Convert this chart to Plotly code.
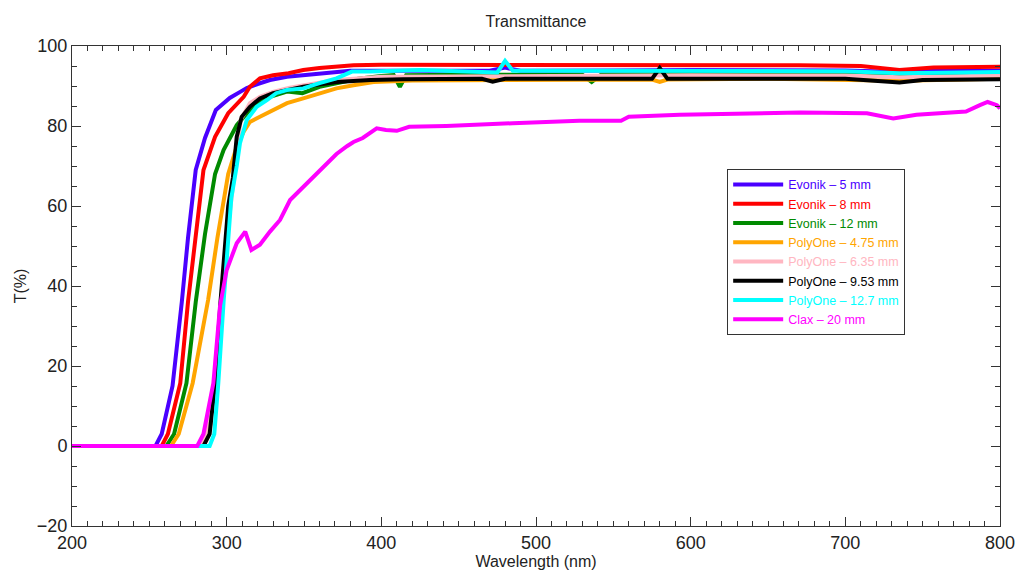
import plotly.graph_objects as go

# ---- data ----
names = ["Evonik – 5 mm", "Evonik – 8 mm", "Evonik – 12 mm", "PolyOne – 4.75 mm",
         "PolyOne – 6.35 mm", "PolyOne – 9.53 mm", "PolyOne – 12.7 mm", "Clax – 20 mm"]
colors = ["#4a00ff", "#ff0000", "#008a00", "#ffa500", "#ffb6c1", "#000000", "#00ffff", "#ff00ff"]

evonik5_wl = [200, 254, 258, 265, 271, 275, 280, 286, 293, 302, 309, 313, 320, 328, 339, 349, 360, 371, 380,
              400, 450, 470, 480, 490, 550, 600, 700, 735, 760, 800]
evonik5_T = [0, 0, 3, 15, 36, 52, 69, 77, 84, 87, 88.6, 89.5, 90.5, 91.5, 92.3, 92.7, 93.2, 93.6, 93.8,
             93.8, 93.8, 93.8, 94.6, 93.8, 93.9, 94, 93.9, 93.5, 93.8, 93.8]

evonik8_wl = [200, 258, 262, 270, 275, 280, 285, 292.5, 301, 311, 315, 321.5, 330, 340, 349.5, 360, 382,
              400, 450, 500, 541, 600, 670, 710, 725, 735, 757, 800]
evonik8_T = [0, 0, 3, 15.7, 36, 53, 69, 77.3, 83.2, 87.3, 89.8, 91.9, 92.7, 93.2, 94, 94.5, 95.2,
             95.3, 95.3, 95.4, 95.4, 95.3, 95.2, 95, 94.4, 94, 94.6, 94.8]

evonik12_wl = [200, 261, 266, 274, 280, 286, 292.5, 298, 306.5, 315, 321, 328, 339, 349, 360, 371, 385,
               400, 408, 412, 416, 450, 530, 536, 542, 600, 700, 735, 800]
evonik12_T = [0, 0, 3, 15.7, 36, 53, 68, 74, 80.2, 84, 86, 87.3, 88.6, 88.2, 89.8, 90.7, 91.8,
              92.5, 92.7, 89.8, 92.7, 92.8, 92.8, 91, 92.8, 93, 92.9, 92.5, 92.8]

polyone475_wl = [200, 264, 269, 278, 288, 294, 301, 306.5, 311, 315, 321.5, 330, 339, 349.5, 360, 371,
                 382, 395, 420, 500, 575, 580, 585, 650, 735, 800]
polyone475_T = [0, 0, 3, 15.7, 36.5, 52, 68, 74.8, 78.6, 81, 82.3, 84, 85.7, 86.9, 88.2, 89.4,
                90.2, 91, 91.4, 91.6, 91.6, 91.0, 91.6, 91.8, 91.3, 91.8]

polyone635_wl = [200, 283, 287, 293, 297, 301, 305, 307.5, 309, 315, 321.5, 330, 340, 350, 371, 400,
                 500, 600, 700, 735, 800]
polyone635_T = [0, 0, 3, 17, 38, 55, 68, 77.3, 81.5, 85.7, 87.3, 88.5, 89.5, 90.2, 91.5, 92.3,
                92.6, 92.7, 92.6, 92.2, 92.6]

polyone953_wl = [200, 285, 289, 292.5, 296, 301, 304, 306.5, 309.7, 315, 321.5, 330, 349.5, 371, 393,
                 414, 465, 472, 480, 575, 580, 585, 700, 725, 735, 750, 800]
polyone953_T = [0, 0, 3, 15.7, 36, 60, 67, 77.3, 82.3, 84.8, 86.9, 88.2, 89.8, 91, 91.5,
                91.7, 91.8, 91.1, 91.8, 91.8, 94.5, 91.8, 91.8, 91.2, 90.9, 91.5, 91.7]

polyone127_wl = [200, 289, 292, 294.6, 298, 303, 306.5, 308.6, 313, 319.4, 326, 332, 339, 349.5, 360,
                 371, 381, 393, 425, 470, 475, 480, 485, 550, 650, 700, 735, 800]
polyone127_T = [0, 0, 3, 15.7, 36, 62, 70, 75.7, 81.5, 84.8, 86.5, 88.2, 89, 89.4, 90.7,
                91.9, 93.6, 93.6, 94, 93.6, 93.4, 96.3, 93.8, 93.8, 93.8, 93.7, 93.2, 93.5]

clax20_wl = [200, 281, 285, 291.4, 295.7, 300, 306.5, 312, 316, 321.5, 328, 334.5, 341, 354, 360, 367,
             371, 378, 382, 388, 397, 403, 410, 418, 442, 485, 528, 555, 560, 593, 636, 671, 714,
             731, 746, 778, 787, 792, 798, 800]
clax20_T = [0, 0, 3, 15.7, 35, 44, 50.7, 53.6, 49, 50.3, 53.6, 56.5, 61.5, 66.5, 68.5, 71.5,
            73, 75, 76, 77, 79.4, 79, 78.8, 79.8, 80, 80.7, 81.3, 81.3, 82.3, 82.8, 83.2, 83.4, 83.2,
            81.9, 82.8, 83.6, 85.2, 86, 85.2, 84.4]

wavelengths = [evonik5_wl, evonik8_wl, evonik12_wl, polyone475_wl,
               polyone635_wl, polyone953_wl, polyone127_wl, clax20_wl]
transmit = [evonik5_T, evonik8_T, evonik12_T, polyone475_T,
            polyone635_T, polyone953_T, polyone127_T, clax20_T]

x_ticks = [200, 300, 400, 500, 600, 700, 800]
y_ticks = [-20, 0, 20, 40, 60, 80, 100]

# ---- figure ----
fig = go.Figure()
for name, col, wl, T in zip(names, colors, wavelengths, transmit):
    fig.add_trace(go.Scatter(
        x=wl, y=T, mode="lines", line=dict(color=col, width=4),
        name=f"<span style='color:{col}'>{name}</span>",
    ))

font_family = "Liberation Sans, Arial, sans-serif"
txt_col = "#222222"
axis_common = dict(
    showline=True, linecolor="#333333", linewidth=1, mirror="allticks",
    ticks="inside", ticklen=9, tickwidth=1, tickcolor="#333333",
    showgrid=False, zeroline=False, automargin=False,
    tickfont=dict(family=font_family, size=18, color=txt_col),
)

fig.update_xaxes(
    range=[200, 800], tickvals=x_ticks,
    minor=dict(dtick=10, ticks="inside", ticklen=5, tickcolor="#333333", showgrid=False),
    title=dict(text="Wavelength (nm)", font=dict(family=font_family, size=16, color=txt_col),
               standoff=0),
    ticklabelstandoff=0,
    **axis_common,
)
fig.update_yaxes(
    range=[-20, 100], tickvals=y_ticks,
    minor=dict(dtick=5, ticks="inside", ticklen=5, tickcolor="#333333", showgrid=False),
    title=dict(text="T(%)", font=dict(family=font_family, size=16, color=txt_col), standoff=6),
    **axis_common,
)

fig.update_layout(
    width=1019, height=572,
    margin=dict(l=72, r=19, t=46, b=46, autoexpand=False),
    paper_bgcolor="white", plot_bgcolor="white",
    title=dict(text="Transmittance", x=0.526, xanchor="center", y=0.973, yanchor="top",
               font=dict(family=font_family, size=16, color=txt_col)),
    showlegend=True,
    legend=dict(
        x=0.706, y=0.744, xanchor="left", yanchor="top",
        bgcolor="white", bordercolor="#333333", borderwidth=1,
        font=dict(family=font_family, size=12.5),
        itemwidth=50, tracegroupgap=0,
    ),
)

fig.write_html(
    "out.html",
    config={"displayModeBar": False},
    post_script="document.body.style.margin='0';document.body.style.overflow='hidden';",
)
